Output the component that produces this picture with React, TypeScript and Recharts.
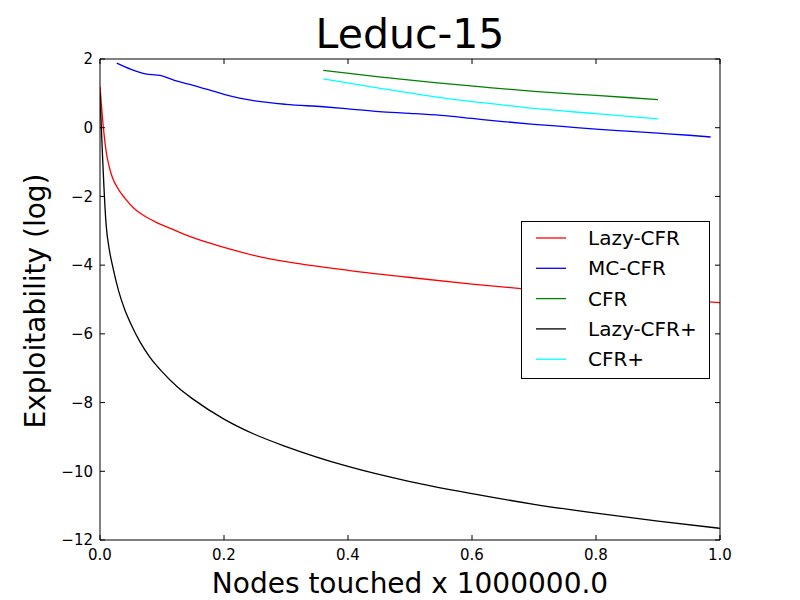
import { Legend, Line, LineChart, XAxis, YAxis } from 'recharts'

// x values are in millions of nodes touched, y is log exploitability
const lazyCfrNodes = [0, 0.003, 0.006, 0.01, 0.015, 0.02, 0.03, 0.04, 0.055, 0.07, 0.09, 0.12, 0.15, 0.2, 0.25, 0.3, 0.4, 0.5, 0.6, 0.7, 0.8, 0.9, 1.0]
const lazyCfrExpl = [1.2, 0.5, -0.1, -0.7, -1.15, -1.45, -1.8, -2.05, -2.35, -2.55, -2.75, -2.98, -3.2, -3.48, -3.72, -3.9, -4.15, -4.36, -4.55, -4.72, -4.87, -4.98, -5.09]

const mcCfrNodes = [0.027, 0.05, 0.073, 0.097, 0.12, 0.145, 0.17, 0.2, 0.225, 0.25, 0.3, 0.36, 0.4, 0.45, 0.5, 0.55, 0.6, 0.65, 0.7, 0.75, 0.8, 0.85, 0.9, 0.95, 0.985]
const mcCfrExpl = [1.88, 1.7, 1.57, 1.52, 1.38, 1.26, 1.13, 0.97, 0.86, 0.78, 0.68, 0.61, 0.55, 0.47, 0.42, 0.36, 0.27, 0.18, 0.1, 0.03, -0.04, -0.1, -0.16, -0.22, -0.27]

const cfrNodes = [0.36, 0.45, 0.54, 0.62, 0.7, 0.8, 0.9]
const cfrExpl = [1.67, 1.48, 1.31, 1.18, 1.06, 0.94, 0.82]

const lazyCfrPlusNodes = [0, 0.01, 0.015, 0.02, 0.03, 0.04, 0.05, 0.065, 0.08, 0.1, 0.125, 0.15, 0.2, 0.25, 0.3, 0.4, 0.5, 0.6, 0.7, 0.8, 0.9, 1.0]
const lazyCfrPlusExpl = [1.0, -2.85, -3.55, -4.0, -4.75, -5.3, -5.72, -6.25, -6.67, -7.1, -7.55, -7.9, -8.48, -8.93, -9.28, -9.86, -10.3, -10.65, -10.96, -11.22, -11.45, -11.66]

const cfrPlusNodes = [0.36, 0.45, 0.54, 0.62, 0.7, 0.8, 0.9]
const cfrPlusExpl = [1.42, 1.15, 0.9, 0.72, 0.56, 0.41, 0.26]

const xTicks = [0, 0.2, 0.4, 0.6, 0.8, 1.0]
const yTicks = [-12, -10, -8, -6, -4, -2, 0, 2]

const zip = (xs: number[], ys: number[]) => xs.map((x, i) => ({ x, y: ys[i] }))

const series = [
  { name: 'Lazy-CFR', color: '#ff0000', data: zip(lazyCfrNodes, lazyCfrExpl) },
  { name: 'MC-CFR', color: '#0000ff', data: zip(mcCfrNodes, mcCfrExpl) },
  { name: 'CFR', color: '#008000', data: zip(cfrNodes, cfrExpl) },
  { name: 'Lazy-CFR+', color: '#000000', data: zip(lazyCfrPlusNodes, lazyCfrPlusExpl) },
  { name: 'CFR+', color: '#00ffff', data: zip(cfrPlusNodes, cfrPlusExpl) },
]

const font = 'DejaVu Sans'
const TICK = 5
const fmtY = (v: number) => (v < 0 ? '\u2212' + Math.abs(v) : String(v))
const fmtX = (v: number) => v.toFixed(1)

// matplotlib-style ticks: short marks pointing into the plot
function BottomTick(props: any) {
  const { x, y, payload } = props
  const base = y - 9
  return (
    <g>
      <line x1={x} x2={x} y1={base} y2={base - TICK} stroke="#000" />
      <text x={x} y={y} dy="0.71em" textAnchor="middle" fontSize={15} fontFamily={font} fill="#000">
        {fmtX(payload.value)}
      </text>
    </g>
  )
}

function LeftTick(props: any) {
  const { x, y, payload } = props
  const base = x + 7
  return (
    <g>
      <line x1={base} x2={base + TICK} y1={y} y2={y} stroke="#000" />
      <text x={x} y={y} dy="0.355em" textAnchor="end" fontSize={15} fontFamily={font} fill="#000">
        {fmtY(payload.value)}
      </text>
    </g>
  )
}

function TopTick(props: any) {
  const { x, y } = props
  return <line x1={x} x2={x} y1={y} y2={y + TICK} stroke="#000" />
}

function RightTick(props: any) {
  const { x, y } = props
  return <line x1={x} x2={x - TICK} y1={y} y2={y} stroke="#000" />
}

function LegendBox() {
  return (
    <svg width={189} height={158} style={{ display: 'block' }}>
      <rect x={0.5} y={0.5} width={188} height={157} fill="#fff" stroke="#000" strokeWidth={1} />
      {series.map((s, i) => {
        const cy = 17 + i * 30.3
        return (
          <g key={s.name}>
            <line x1={15} x2={45} y1={cy} y2={cy} stroke={s.color} strokeWidth={1.3} />
            <text x={67} y={cy + 7} fontSize={20} fontFamily={font} fill="#000">{s.name}</text>
          </g>
        )
      })}
    </svg>
  )
}

export default function App() {
  return (
    <div style={{ position: 'absolute', left: 0, top: 0, width: 800, height: 600, background: '#fff', fontFamily: font }}>
      <div style={{ position: 'absolute', left: 0, top: 0, width: 800, height: 600 }}>
        <LineChart width={800} height={600} margin={{ top: 58, right: 79, left: 0, bottom: 0 }}>
          <XAxis
            xAxisId="bottom"
            dataKey="x"
            type="number"
            domain={[0, 1]}
            ticks={xTicks}
            interval={0}
            tick={<BottomTick />}
            tickLine={false}
            tickSize={0}
            tickMargin={9}
            height={60}
            stroke="#000"
            allowDataOverflow
            label={() => (
              <text x={410} y={593} textAnchor="middle" fontSize={28} fontFamily={font} fill="#000">
                Nodes touched x 1000000.0
              </text>
            )}
          />
          <XAxis
            xAxisId="top"
            orientation="top"
            dataKey="x"
            type="number"
            domain={[0, 1]}
            ticks={xTicks}
            interval={0}
            tick={<TopTick />}
            tickLine={false}
            tickSize={0}
            tickMargin={0}
            height={1}
            stroke="#000"
            allowDataOverflow
          />
          <YAxis
            yAxisId="left"
            type="number"
            domain={[-12, 2]}
            ticks={yTicks}
            interval={0}
            tick={<LeftTick />}
            tickLine={false}
            tickSize={0}
            tickMargin={7}
            width={100}
            stroke="#000"
            allowDataOverflow
            label={() => (
              <text x={45} y={301} transform="rotate(-90 45 301)" textAnchor="middle" fontSize={28} fontFamily={font} fill="#000">
                Exploitability (log)
              </text>
            )}
          />
          <YAxis
            yAxisId="right"
            orientation="right"
            type="number"
            domain={[-12, 2]}
            ticks={yTicks}
            interval={0}
            tick={<RightTick />}
            tickLine={false}
            tickSize={0}
            tickMargin={0}
            width={1}
            stroke="#000"
            allowDataOverflow
          />
          {series.map((s) => (
            <Line
              key={s.name}
              xAxisId="bottom"
              yAxisId="left"
              data={s.data}
              dataKey="y"
              name={s.name}
              type="monotone"
              stroke={s.color}
              strokeWidth={1.3}
              dot={false}
              activeDot={false}
              isAnimationActive={false}
            />
          ))}
          <Legend
            layout="horizontal"
            verticalAlign="middle"
            align="center"
            content={() => <LegendBox />}
            wrapperStyle={{ left: 521, top: 221, width: 189, height: 158 }}
          />
        </LineChart>
      </div>
      <div
        style={{
          position: 'absolute',
          left: 0,
          top: 10,
          width: 820,
          textAlign: 'center',
          fontSize: 41,
          lineHeight: '48px',
          fontFamily: font,
          color: '#000',
        }}
      >
        Leduc-15
      </div>
    </div>
  )
}
